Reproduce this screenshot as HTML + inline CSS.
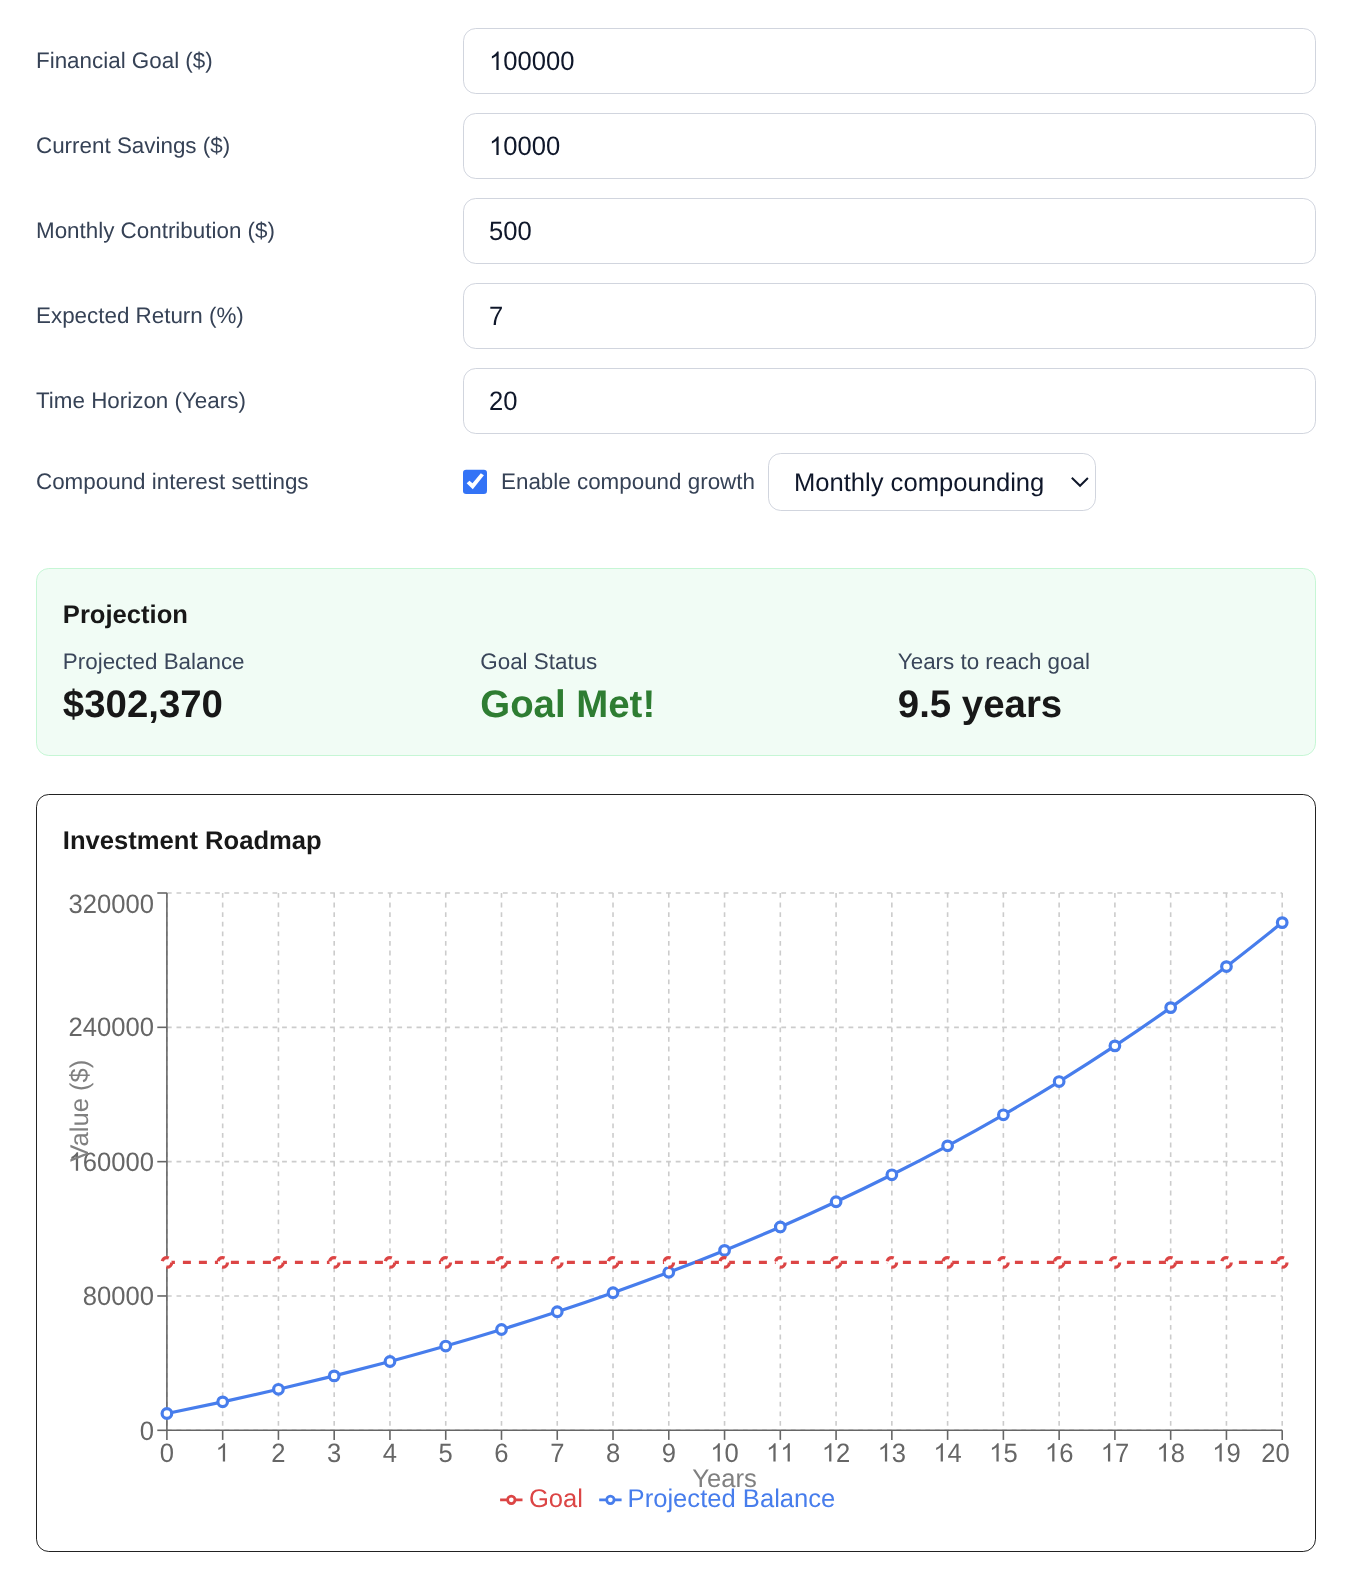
<!DOCTYPE html>
<html lang="en"><head><meta charset="utf-8"><title>Investment Roadmap</title>
<style>
*{box-sizing:border-box}
html,body{margin:0;padding:0;background:#fff}
body{width:1348px;height:1578px;position:relative;overflow:hidden;font-family:"Liberation Sans",sans-serif;}
.t{position:absolute;white-space:nowrap;margin:0}
.box{position:absolute;background:#fff;border:1px solid #d1d5de;border-radius:12.8px}
.card{position:absolute;border-radius:12.8px}
svg text{font-family:"Liberation Sans",sans-serif}
#w{position:absolute;left:0;top:0;width:1348px;height:1578px;will-change:transform;text-rendering:geometricPrecision}
</style></head><body><div id="w">

<div class="t" style="left:36.00px;top:47.24px;font-size:22.4px;line-height:28.0px;color:#364256;">Financial Goal ($)</div>
<div class="box" style="left:463px;top:28px;width:853px;height:66px"></div>
<div class="t" style="left:36.00px;top:132.24px;font-size:22.4px;line-height:28.0px;color:#364256;">Current Savings ($)</div>
<div class="box" style="left:463px;top:113px;width:853px;height:66px"></div>
<div class="t" style="left:36.00px;top:217.24px;font-size:22.4px;line-height:28.0px;color:#364256;">Monthly Contribution ($)</div>
<div class="box" style="left:463px;top:198px;width:853px;height:66px"></div>
<div class="t" style="left:36.00px;top:302.24px;font-size:22.4px;line-height:28.0px;color:#364256;">Expected Return (%)</div>
<div class="box" style="left:463px;top:283px;width:853px;height:66px"></div>
<div class="t" style="left:36.00px;top:387.24px;font-size:22.4px;line-height:28.0px;color:#364256;">Time Horizon (Years)</div>
<div class="box" style="left:463px;top:368px;width:853px;height:66px"></div>
<div class="t" style="left:36.00px;top:468.24px;font-size:22.4px;line-height:28.0px;color:#364256;">Compound interest settings</div>
<svg style="position:absolute;left:463px;top:469px" width="24" height="26" viewBox="0 0 24 26"><rect x="0" y="0.7" width="24" height="24.2" rx="3.2" fill="#3373f6"/><path d="M3.66 14.36 L6.46 11.7 L9.49 14.28 L17.81 4.35 L20.93 6.35 L9.8 20.15 Z" fill="#fff"/></svg>
<div class="t" style="left:501.00px;top:468.24px;font-size:22.4px;line-height:28.0px;color:#364256;">Enable compound growth</div>
<div class="box" style="left:768px;top:453px;width:328px;height:58px"></div>
<div class="t" style="left:793.90px;top:466.88px;font-size:25.6px;line-height:32.0px;color:#0f172a;">Monthly compounding</div>
<svg style="position:absolute;left:1060px;top:465px" width="36" height="36" viewBox="1060 465 36 36"><path d="M1071.8 477.7 L1080.05 485.8 L1087.9 478.0" fill="none" stroke="#0f172a" stroke-width="1.95" stroke-linecap="butt" stroke-linejoin="miter"/></svg>
<div class="card" style="left:36px;top:568px;width:1280px;height:188px;background:#f1fcf5;border:1px solid #c6f6d5"></div>
<div class="t" style="left:62.85px;top:599.13px;font-size:25.6px;line-height:32.0px;color:#181818;font-weight:700;">Projection</div>
<div class="t" style="left:62.85px;top:648.24px;font-size:22.4px;line-height:28.0px;color:#3a465a;">Projected Balance</div>
<div class="t" style="left:62.85px;top:681.19px;font-size:38.4px;line-height:48.0px;color:#181818;font-weight:700;">$302,370</div>
<div class="t" style="left:480.30px;top:648.24px;font-size:22.4px;line-height:28.0px;color:#3a465a;">Goal Status</div>
<div class="t" style="left:480.30px;top:681.19px;font-size:38.4px;line-height:48.0px;color:#2e7d32;font-weight:700;">Goal Met!</div>
<div class="t" style="left:897.80px;top:648.24px;font-size:22.4px;line-height:28.0px;color:#3a465a;">Years to reach goal</div>
<div class="t" style="left:897.80px;top:681.19px;font-size:38.4px;line-height:48.0px;color:#181818;font-weight:700;">9.5 years</div>
<div class="card" style="left:36px;top:794px;width:1280px;height:758px;background:#fff;border:1px solid #222"></div>
<div class="t" style="left:62.85px;top:825.13px;font-size:25.6px;line-height:32.0px;color:#181818;font-weight:700;">Investment Roadmap</div>
<svg style="position:absolute;left:0;top:0" width="1348" height="1578" viewBox="0 0 1348 1578">
<path transform="translate(489.10,70.00) scale(0.01250,-0.01250)" d="M763 0H583V1147Q518 1085 412.5 1023Q307 961 223 930V1104Q374 1175 487 1276Q600 1377 647 1472H763Z" fill="#0f172a"/><text transform="matrix(1 0 0 1.041 0 -2.870)" x="503.34" y="70.00" font-size="25.6" fill="#0f172a">00000</text>
<path transform="translate(489.10,155.00) scale(0.01250,-0.01250)" d="M763 0H583V1147Q518 1085 412.5 1023Q307 961 223 930V1104Q374 1175 487 1276Q600 1377 647 1472H763Z" fill="#0f172a"/><text transform="matrix(1 0 0 1.041 0 -6.355)" x="503.34" y="155.00" font-size="25.6" fill="#0f172a">0000</text>
<text transform="matrix(1 0 0 1.041 0 -9.840)" x="489.10" y="240.00" font-size="25.6" fill="#0f172a">500</text>
<text transform="matrix(1 0 0 1.041 0 -13.325)" x="489.10" y="325.00" font-size="25.6" fill="#0f172a">7</text>
<text transform="matrix(1 0 0 1.041 0 -16.810)" x="489.10" y="410.00" font-size="25.6" fill="#0f172a">20</text>
<g stroke="#ccc" stroke-width="1.6" stroke-dasharray="4.8 4.8" fill="none">
<line x1="166.9" y1="1430.30" x2="1282.2" y2="1430.30"/>
<line x1="166.9" y1="1295.97" x2="1282.2" y2="1295.97"/>
<line x1="166.9" y1="1161.65" x2="1282.2" y2="1161.65"/>
<line x1="166.9" y1="1027.33" x2="1282.2" y2="1027.33"/>
<line x1="166.9" y1="893.00" x2="1282.2" y2="893.00"/>
<line x1="166.90" y1="893.0" x2="166.90" y2="1430.3"/>
<line x1="222.67" y1="893.0" x2="222.67" y2="1430.3"/>
<line x1="278.43" y1="893.0" x2="278.43" y2="1430.3"/>
<line x1="334.19" y1="893.0" x2="334.19" y2="1430.3"/>
<line x1="389.96" y1="893.0" x2="389.96" y2="1430.3"/>
<line x1="445.73" y1="893.0" x2="445.73" y2="1430.3"/>
<line x1="501.49" y1="893.0" x2="501.49" y2="1430.3"/>
<line x1="557.25" y1="893.0" x2="557.25" y2="1430.3"/>
<line x1="613.02" y1="893.0" x2="613.02" y2="1430.3"/>
<line x1="668.78" y1="893.0" x2="668.78" y2="1430.3"/>
<line x1="724.55" y1="893.0" x2="724.55" y2="1430.3"/>
<line x1="780.31" y1="893.0" x2="780.31" y2="1430.3"/>
<line x1="836.08" y1="893.0" x2="836.08" y2="1430.3"/>
<line x1="891.84" y1="893.0" x2="891.84" y2="1430.3"/>
<line x1="947.61" y1="893.0" x2="947.61" y2="1430.3"/>
<line x1="1003.38" y1="893.0" x2="1003.38" y2="1430.3"/>
<line x1="1059.14" y1="893.0" x2="1059.14" y2="1430.3"/>
<line x1="1114.90" y1="893.0" x2="1114.90" y2="1430.3"/>
<line x1="1170.67" y1="893.0" x2="1170.67" y2="1430.3"/>
<line x1="1226.44" y1="893.0" x2="1226.44" y2="1430.3"/>
<line x1="1282.20" y1="893.0" x2="1282.20" y2="1430.3"/>
</g>
<g stroke="#666" stroke-width="1.6" fill="none">
<line x1="166.9" y1="1430.3" x2="1282.2" y2="1430.3"/>
<line x1="166.9" y1="893.0" x2="166.9" y2="1430.3"/>
<line x1="166.90" y1="1430.3" x2="166.90" y2="1439.8999999999999"/>
<line x1="222.67" y1="1430.3" x2="222.67" y2="1439.8999999999999"/>
<line x1="278.43" y1="1430.3" x2="278.43" y2="1439.8999999999999"/>
<line x1="334.19" y1="1430.3" x2="334.19" y2="1439.8999999999999"/>
<line x1="389.96" y1="1430.3" x2="389.96" y2="1439.8999999999999"/>
<line x1="445.73" y1="1430.3" x2="445.73" y2="1439.8999999999999"/>
<line x1="501.49" y1="1430.3" x2="501.49" y2="1439.8999999999999"/>
<line x1="557.25" y1="1430.3" x2="557.25" y2="1439.8999999999999"/>
<line x1="613.02" y1="1430.3" x2="613.02" y2="1439.8999999999999"/>
<line x1="668.78" y1="1430.3" x2="668.78" y2="1439.8999999999999"/>
<line x1="724.55" y1="1430.3" x2="724.55" y2="1439.8999999999999"/>
<line x1="780.31" y1="1430.3" x2="780.31" y2="1439.8999999999999"/>
<line x1="836.08" y1="1430.3" x2="836.08" y2="1439.8999999999999"/>
<line x1="891.84" y1="1430.3" x2="891.84" y2="1439.8999999999999"/>
<line x1="947.61" y1="1430.3" x2="947.61" y2="1439.8999999999999"/>
<line x1="1003.38" y1="1430.3" x2="1003.38" y2="1439.8999999999999"/>
<line x1="1059.14" y1="1430.3" x2="1059.14" y2="1439.8999999999999"/>
<line x1="1114.90" y1="1430.3" x2="1114.90" y2="1439.8999999999999"/>
<line x1="1170.67" y1="1430.3" x2="1170.67" y2="1439.8999999999999"/>
<line x1="1226.44" y1="1430.3" x2="1226.44" y2="1439.8999999999999"/>
<line x1="1282.20" y1="1430.3" x2="1282.20" y2="1439.8999999999999"/>
<line x1="157.3" y1="1430.30" x2="166.9" y2="1430.30"/>
<line x1="157.3" y1="1295.97" x2="166.9" y2="1295.97"/>
<line x1="157.3" y1="1161.65" x2="166.9" y2="1161.65"/>
<line x1="157.3" y1="1027.33" x2="166.9" y2="1027.33"/>
<line x1="157.3" y1="893.00" x2="166.9" y2="893.00"/>
</g>
<g fill="#666" font-size="25.6">
<text transform="matrix(1 0 0 1.041 0 -59.926)" x="159.78" y="1461.60" font-size="25.6" fill="#666">0</text>
<path transform="translate(215.55,1461.60) scale(0.01250,-0.01250)" d="M763 0H583V1147Q518 1085 412.5 1023Q307 961 223 930V1104Q374 1175 487 1276Q600 1377 647 1472H763Z" fill="#666"/>
<text transform="matrix(1 0 0 1.041 0 -59.926)" x="271.31" y="1461.60" font-size="25.6" fill="#666">2</text>
<text transform="matrix(1 0 0 1.041 0 -59.926)" x="327.08" y="1461.60" font-size="25.6" fill="#666">3</text>
<text transform="matrix(1 0 0 1.041 0 -59.926)" x="382.84" y="1461.60" font-size="25.6" fill="#666">4</text>
<text transform="matrix(1 0 0 1.041 0 -59.926)" x="438.61" y="1461.60" font-size="25.6" fill="#666">5</text>
<text transform="matrix(1 0 0 1.041 0 -59.926)" x="494.37" y="1461.60" font-size="25.6" fill="#666">6</text>
<text transform="matrix(1 0 0 1.041 0 -59.926)" x="550.14" y="1461.60" font-size="25.6" fill="#666">7</text>
<text transform="matrix(1 0 0 1.041 0 -59.926)" x="605.90" y="1461.60" font-size="25.6" fill="#666">8</text>
<text transform="matrix(1 0 0 1.041 0 -59.926)" x="661.67" y="1461.60" font-size="25.6" fill="#666">9</text>
<path transform="translate(710.31,1461.60) scale(0.01250,-0.01250)" d="M763 0H583V1147Q518 1085 412.5 1023Q307 961 223 930V1104Q374 1175 487 1276Q600 1377 647 1472H763Z" fill="#666"/><text transform="matrix(1 0 0 1.041 0 -59.926)" x="724.55" y="1461.60" font-size="25.6" fill="#666">0</text>
<path transform="translate(766.08,1461.60) scale(0.01250,-0.01250)" d="M763 0H583V1147Q518 1085 412.5 1023Q307 961 223 930V1104Q374 1175 487 1276Q600 1377 647 1472H763Z" fill="#666"/><path transform="translate(780.31,1461.60) scale(0.01250,-0.01250)" d="M763 0H583V1147Q518 1085 412.5 1023Q307 961 223 930V1104Q374 1175 487 1276Q600 1377 647 1472H763Z" fill="#666"/>
<path transform="translate(821.84,1461.60) scale(0.01250,-0.01250)" d="M763 0H583V1147Q518 1085 412.5 1023Q307 961 223 930V1104Q374 1175 487 1276Q600 1377 647 1472H763Z" fill="#666"/><text transform="matrix(1 0 0 1.041 0 -59.926)" x="836.08" y="1461.60" font-size="25.6" fill="#666">2</text>
<path transform="translate(877.61,1461.60) scale(0.01250,-0.01250)" d="M763 0H583V1147Q518 1085 412.5 1023Q307 961 223 930V1104Q374 1175 487 1276Q600 1377 647 1472H763Z" fill="#666"/><text transform="matrix(1 0 0 1.041 0 -59.926)" x="891.84" y="1461.60" font-size="25.6" fill="#666">3</text>
<path transform="translate(933.37,1461.60) scale(0.01250,-0.01250)" d="M763 0H583V1147Q518 1085 412.5 1023Q307 961 223 930V1104Q374 1175 487 1276Q600 1377 647 1472H763Z" fill="#666"/><text transform="matrix(1 0 0 1.041 0 -59.926)" x="947.61" y="1461.60" font-size="25.6" fill="#666">4</text>
<path transform="translate(989.14,1461.60) scale(0.01250,-0.01250)" d="M763 0H583V1147Q518 1085 412.5 1023Q307 961 223 930V1104Q374 1175 487 1276Q600 1377 647 1472H763Z" fill="#666"/><text transform="matrix(1 0 0 1.041 0 -59.926)" x="1003.38" y="1461.60" font-size="25.6" fill="#666">5</text>
<path transform="translate(1044.90,1461.60) scale(0.01250,-0.01250)" d="M763 0H583V1147Q518 1085 412.5 1023Q307 961 223 930V1104Q374 1175 487 1276Q600 1377 647 1472H763Z" fill="#666"/><text transform="matrix(1 0 0 1.041 0 -59.926)" x="1059.14" y="1461.60" font-size="25.6" fill="#666">6</text>
<path transform="translate(1100.67,1461.60) scale(0.01250,-0.01250)" d="M763 0H583V1147Q518 1085 412.5 1023Q307 961 223 930V1104Q374 1175 487 1276Q600 1377 647 1472H763Z" fill="#666"/><text transform="matrix(1 0 0 1.041 0 -59.926)" x="1114.90" y="1461.60" font-size="25.6" fill="#666">7</text>
<path transform="translate(1156.43,1461.60) scale(0.01250,-0.01250)" d="M763 0H583V1147Q518 1085 412.5 1023Q307 961 223 930V1104Q374 1175 487 1276Q600 1377 647 1472H763Z" fill="#666"/><text transform="matrix(1 0 0 1.041 0 -59.926)" x="1170.67" y="1461.60" font-size="25.6" fill="#666">8</text>
<path transform="translate(1212.20,1461.60) scale(0.01250,-0.01250)" d="M763 0H583V1147Q518 1085 412.5 1023Q307 961 223 930V1104Q374 1175 487 1276Q600 1377 647 1472H763Z" fill="#666"/><text transform="matrix(1 0 0 1.041 0 -59.926)" x="1226.44" y="1461.60" font-size="25.6" fill="#666">9</text>
<text transform="matrix(1 0 0 1.041 0 -59.926)" x="1261.36" y="1461.60" font-size="25.6" fill="#666">20</text>
<text transform="matrix(1 0 0 1.041 0 -59.036)" x="139.76" y="1439.90" font-size="25.6" fill="#666">0</text>
<text transform="matrix(1 0 0 1.041 0 -53.508)" x="82.81" y="1305.07" font-size="25.6" fill="#666">80000</text>
<path transform="translate(68.57,1170.75) scale(0.01250,-0.01250)" d="M763 0H583V1147Q518 1085 412.5 1023Q307 961 223 930V1104Q374 1175 487 1276Q600 1377 647 1472H763Z" fill="#666"/><text transform="matrix(1 0 0 1.041 0 -48.001)" x="82.81" y="1170.75" font-size="25.6" fill="#666">60000</text>
<text transform="matrix(1 0 0 1.041 0 -42.493)" x="68.57" y="1036.42" font-size="25.6" fill="#666">240000</text>
<text transform="matrix(1 0 0 1.041 0 -37.441)" x="68.57" y="913.20" font-size="25.6" fill="#666">320000</text>
</g>
<text x="724.55" y="1486.8" text-anchor="middle" font-size="25.6" fill="#808080">Years</text>
<text transform="translate(88.1,1161.65) rotate(-90)" text-anchor="start" font-size="25.6" fill="#808080">Value ($)</text>
<path d="M166.90,1413.51C185.49,1409.69,204.08,1405.86,222.67,1401.83C241.25,1397.80,259.84,1393.63,278.43,1389.31C297.02,1384.98,315.61,1380.52,334.19,1375.88C352.78,1371.24,371.37,1366.45,389.96,1361.48C408.55,1356.51,427.14,1351.37,445.73,1346.04C464.31,1340.71,482.90,1335.20,501.49,1329.49C520.08,1323.77,538.67,1317.87,557.25,1311.73C575.84,1305.60,594.43,1299.27,613.02,1292.70C631.61,1286.12,650.20,1279.34,668.78,1272.29C687.37,1265.24,705.96,1257.96,724.55,1250.40C743.14,1242.84,761.73,1235.04,780.31,1226.93C798.90,1218.82,817.49,1210.45,836.08,1201.76C854.67,1193.07,873.26,1184.10,891.84,1174.78C910.43,1165.46,929.02,1155.83,947.61,1145.84C966.20,1135.85,984.79,1125.53,1003.38,1114.81C1021.96,1104.10,1040.55,1093.03,1059.14,1081.54C1077.73,1070.05,1096.32,1058.19,1114.90,1045.86C1133.49,1033.54,1152.08,1020.82,1170.67,1007.61C1189.26,994.40,1207.85,980.76,1226.44,966.59C1245.02,952.42,1263.61,937.51,1282.20,922.60" stroke="#477dec" stroke-width="3.2" fill="none"/>
<circle cx="166.90" cy="1413.51" r="4.8" stroke="#477dec" stroke-width="3.2" fill="#fff"/>
<circle cx="222.67" cy="1401.83" r="4.8" stroke="#477dec" stroke-width="3.2" fill="#fff"/>
<circle cx="278.43" cy="1389.31" r="4.8" stroke="#477dec" stroke-width="3.2" fill="#fff"/>
<circle cx="334.19" cy="1375.88" r="4.8" stroke="#477dec" stroke-width="3.2" fill="#fff"/>
<circle cx="389.96" cy="1361.48" r="4.8" stroke="#477dec" stroke-width="3.2" fill="#fff"/>
<circle cx="445.73" cy="1346.04" r="4.8" stroke="#477dec" stroke-width="3.2" fill="#fff"/>
<circle cx="501.49" cy="1329.49" r="4.8" stroke="#477dec" stroke-width="3.2" fill="#fff"/>
<circle cx="557.25" cy="1311.73" r="4.8" stroke="#477dec" stroke-width="3.2" fill="#fff"/>
<circle cx="613.02" cy="1292.70" r="4.8" stroke="#477dec" stroke-width="3.2" fill="#fff"/>
<circle cx="668.78" cy="1272.29" r="4.8" stroke="#477dec" stroke-width="3.2" fill="#fff"/>
<circle cx="724.55" cy="1250.40" r="4.8" stroke="#477dec" stroke-width="3.2" fill="#fff"/>
<circle cx="780.31" cy="1226.93" r="4.8" stroke="#477dec" stroke-width="3.2" fill="#fff"/>
<circle cx="836.08" cy="1201.76" r="4.8" stroke="#477dec" stroke-width="3.2" fill="#fff"/>
<circle cx="891.84" cy="1174.78" r="4.8" stroke="#477dec" stroke-width="3.2" fill="#fff"/>
<circle cx="947.61" cy="1145.84" r="4.8" stroke="#477dec" stroke-width="3.2" fill="#fff"/>
<circle cx="1003.38" cy="1114.81" r="4.8" stroke="#477dec" stroke-width="3.2" fill="#fff"/>
<circle cx="1059.14" cy="1081.54" r="4.8" stroke="#477dec" stroke-width="3.2" fill="#fff"/>
<circle cx="1114.90" cy="1045.86" r="4.8" stroke="#477dec" stroke-width="3.2" fill="#fff"/>
<circle cx="1170.67" cy="1007.61" r="4.8" stroke="#477dec" stroke-width="3.2" fill="#fff"/>
<circle cx="1226.44" cy="966.59" r="4.8" stroke="#477dec" stroke-width="3.2" fill="#fff"/>
<circle cx="1282.20" cy="922.60" r="4.8" stroke="#477dec" stroke-width="3.2" fill="#fff"/>
<path d="M166.9,1262.39L1282.2,1262.39" stroke="#dc4545" stroke-width="3.2" stroke-dasharray="8 8" fill="none"/>
<circle cx="166.90" cy="1262.39" r="4.8" stroke="#dc4545" stroke-width="3.2" stroke-dasharray="8 8" fill="#fff"/>
<circle cx="222.67" cy="1262.39" r="4.8" stroke="#dc4545" stroke-width="3.2" stroke-dasharray="8 8" fill="#fff"/>
<circle cx="278.43" cy="1262.39" r="4.8" stroke="#dc4545" stroke-width="3.2" stroke-dasharray="8 8" fill="#fff"/>
<circle cx="334.19" cy="1262.39" r="4.8" stroke="#dc4545" stroke-width="3.2" stroke-dasharray="8 8" fill="#fff"/>
<circle cx="389.96" cy="1262.39" r="4.8" stroke="#dc4545" stroke-width="3.2" stroke-dasharray="8 8" fill="#fff"/>
<circle cx="445.73" cy="1262.39" r="4.8" stroke="#dc4545" stroke-width="3.2" stroke-dasharray="8 8" fill="#fff"/>
<circle cx="501.49" cy="1262.39" r="4.8" stroke="#dc4545" stroke-width="3.2" stroke-dasharray="8 8" fill="#fff"/>
<circle cx="557.25" cy="1262.39" r="4.8" stroke="#dc4545" stroke-width="3.2" stroke-dasharray="8 8" fill="#fff"/>
<circle cx="613.02" cy="1262.39" r="4.8" stroke="#dc4545" stroke-width="3.2" stroke-dasharray="8 8" fill="#fff"/>
<circle cx="668.78" cy="1262.39" r="4.8" stroke="#dc4545" stroke-width="3.2" stroke-dasharray="8 8" fill="#fff"/>
<circle cx="724.55" cy="1262.39" r="4.8" stroke="#dc4545" stroke-width="3.2" stroke-dasharray="8 8" fill="#fff"/>
<circle cx="780.31" cy="1262.39" r="4.8" stroke="#dc4545" stroke-width="3.2" stroke-dasharray="8 8" fill="#fff"/>
<circle cx="836.08" cy="1262.39" r="4.8" stroke="#dc4545" stroke-width="3.2" stroke-dasharray="8 8" fill="#fff"/>
<circle cx="891.84" cy="1262.39" r="4.8" stroke="#dc4545" stroke-width="3.2" stroke-dasharray="8 8" fill="#fff"/>
<circle cx="947.61" cy="1262.39" r="4.8" stroke="#dc4545" stroke-width="3.2" stroke-dasharray="8 8" fill="#fff"/>
<circle cx="1003.38" cy="1262.39" r="4.8" stroke="#dc4545" stroke-width="3.2" stroke-dasharray="8 8" fill="#fff"/>
<circle cx="1059.14" cy="1262.39" r="4.8" stroke="#dc4545" stroke-width="3.2" stroke-dasharray="8 8" fill="#fff"/>
<circle cx="1114.90" cy="1262.39" r="4.8" stroke="#dc4545" stroke-width="3.2" stroke-dasharray="8 8" fill="#fff"/>
<circle cx="1170.67" cy="1262.39" r="4.8" stroke="#dc4545" stroke-width="3.2" stroke-dasharray="8 8" fill="#fff"/>
<circle cx="1226.44" cy="1262.39" r="4.8" stroke="#dc4545" stroke-width="3.2" stroke-dasharray="8 8" fill="#fff"/>
<circle cx="1282.20" cy="1262.39" r="4.8" stroke="#dc4545" stroke-width="3.2" stroke-dasharray="8 8" fill="#fff"/>
<g transform="translate(500.1,1488.6) scale(0.7)"><path stroke-width="4" fill="none" stroke="#dc4545" d="M0,16h10.666666666666666A5.333333333333333,5.333333333333333,0,1,1,21.333333333333332,16H32M21.333333333333332,16A5.333333333333333,5.333333333333333,0,1,1,10.666666666666666,16"/></g>
<text x="528.9" y="1507.0" font-size="25.6" fill="#dc4545">Goal</text>
<g transform="translate(599.2,1488.6) scale(0.7)"><path stroke-width="4" fill="none" stroke="#477dec" d="M0,16h10.666666666666666A5.333333333333333,5.333333333333333,0,1,1,21.333333333333332,16H32M21.333333333333332,16A5.333333333333333,5.333333333333333,0,1,1,10.666666666666666,16"/></g>
<text x="627.6" y="1507.0" font-size="25.6" fill="#477dec">Projected Balance</text>
</svg>
</div></body></html>
